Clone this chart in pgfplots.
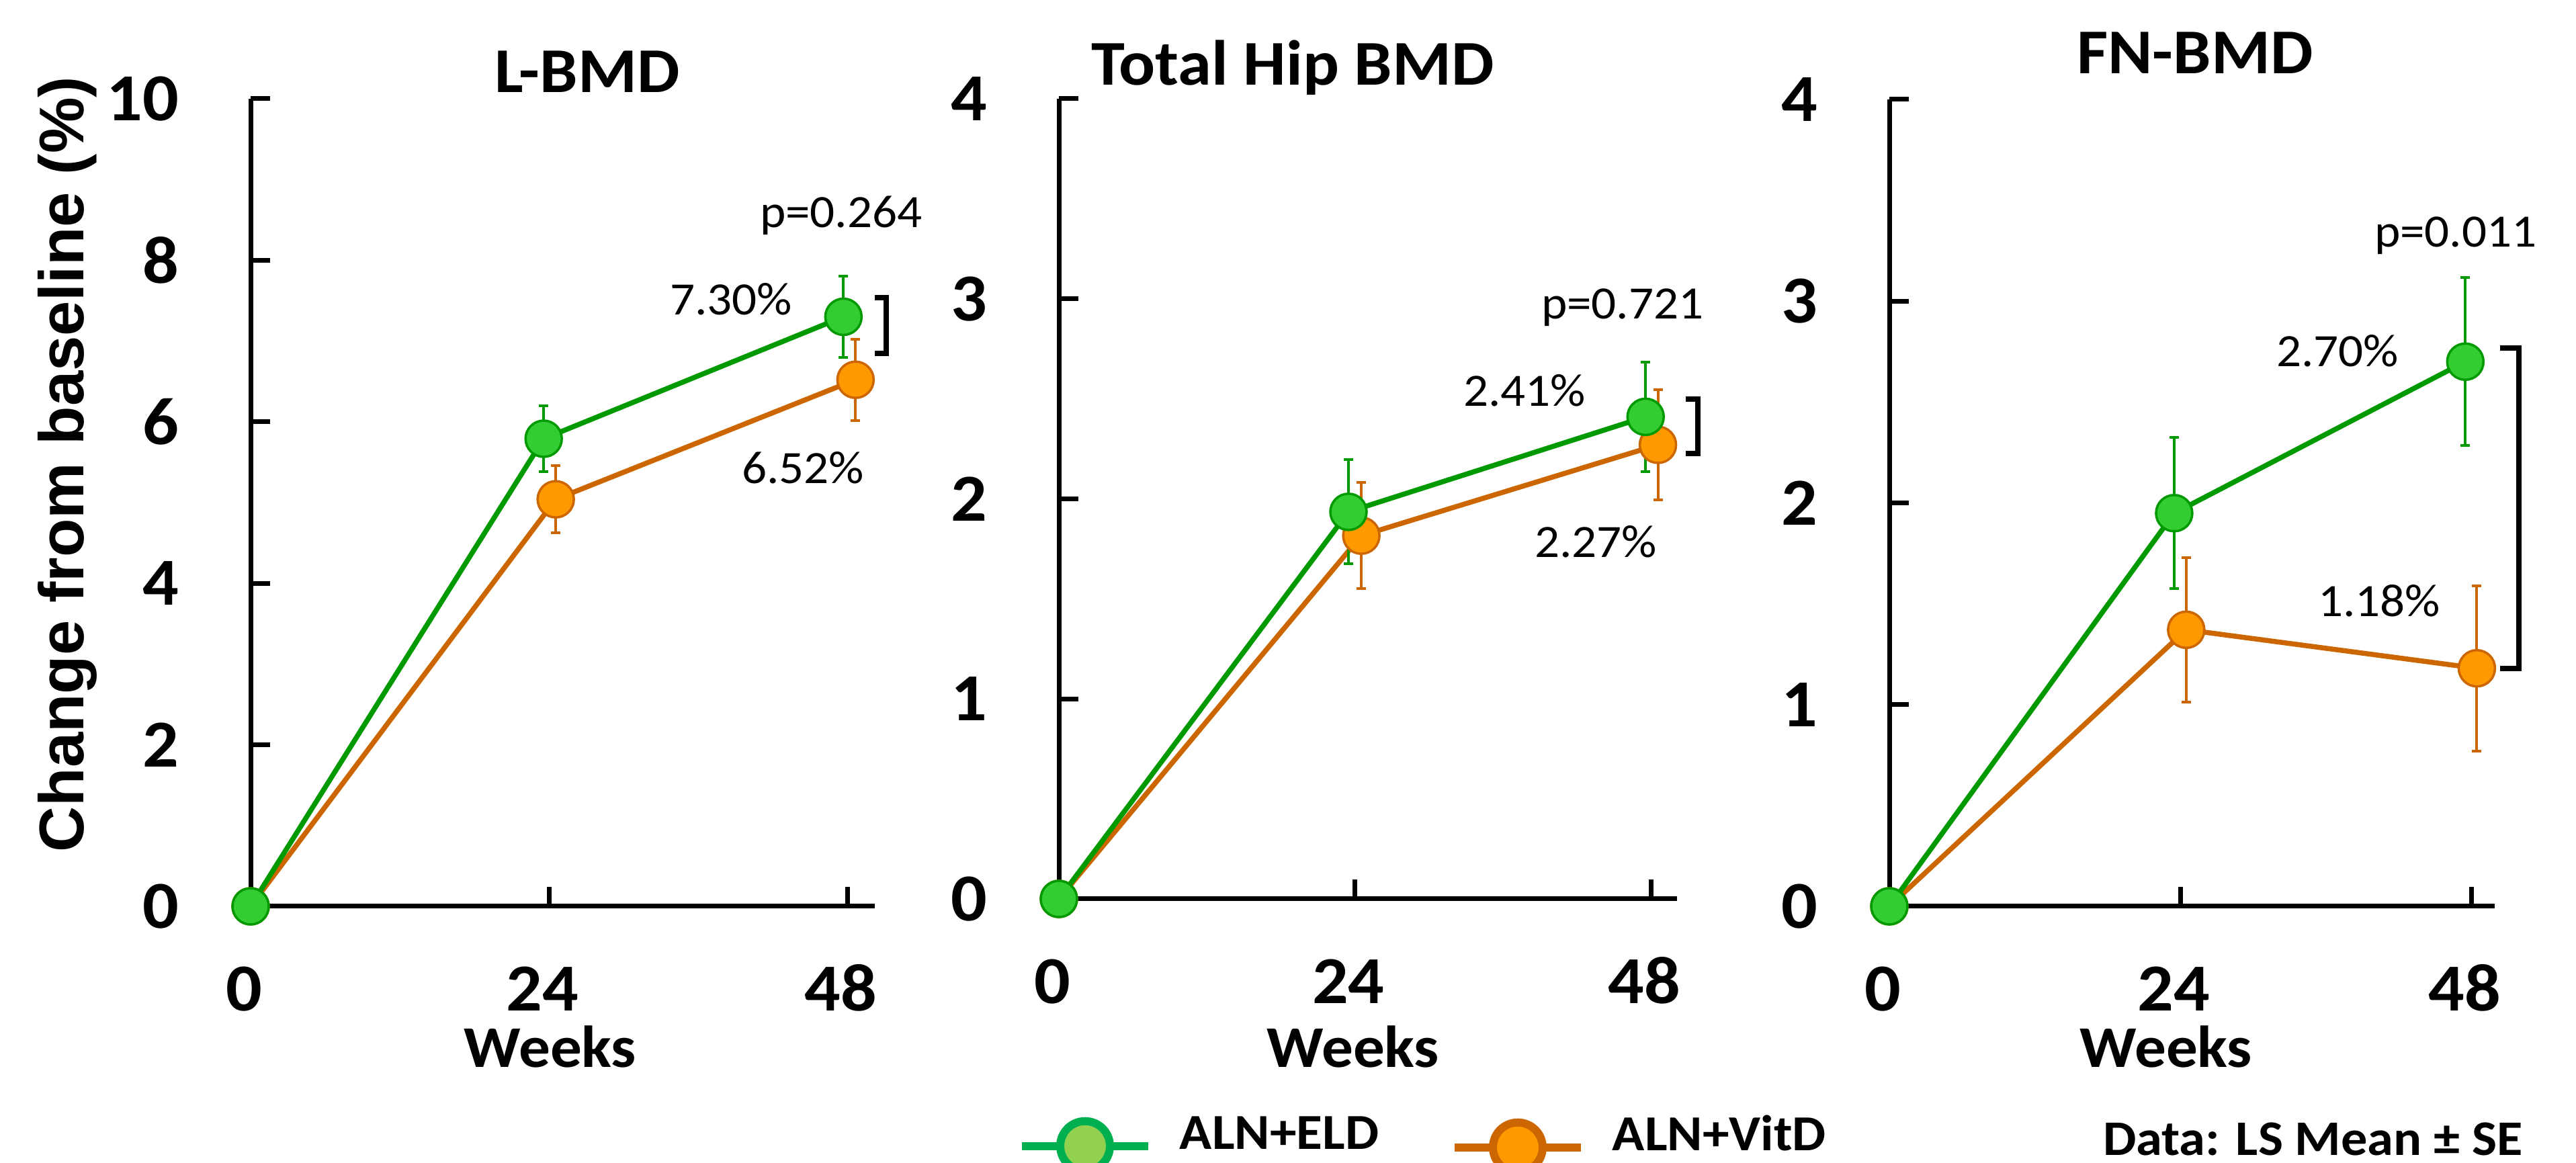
\documentclass[border=0pt]{standalone}
\usepackage{pgfplots}
\pgfplotsset{compat=1.18}
\usepackage{fontspec}
\setmainfont{Carlito}[FakeStretch=1.06]
\newfontfamily\arialfont{Liberation Sans}
\definecolor{gline}{HTML}{009900}
\definecolor{gfill}{HTML}{33CC33}
\definecolor{oline}{HTML}{CC6600}
\definecolor{ofill}{HTML}{FF9900}
\definecolor{lgline}{HTML}{00B050}
\definecolor{lgfill}{HTML}{92D050}

\pgfplotsset{
  panel/.style={
    scale only axis, anchor=south west, axis lines*=left, clip=false,
    xmin=0, ymin=0, xtick={0,24,48}, xticklabels={0,24,48},
    tick align=inside, major tick length=2.85pt,
    axis line style={line width=0.7pt, black},
    tick style={line width=0.7pt, black},
    /pgf/number format/assume math mode=true,
    ticklabel style={font=\bfseries\fontsize{10}{12}\selectfont, inner sep=0pt},
    xticklabel style={anchor=base, yshift=-15.6pt, xshift=-1pt},
    yticklabel style={anchor=east, xshift=-10.5pt},
    legend style={draw=none, fill=none, inner sep=0pt, anchor=west,
      font=\bfseries\fontsize{7.5}{9}\selectfont,
      cells={anchor=base west},
      /tikz/every odd column/.style={column sep=4.1pt},
      nodes={inner sep=0pt}},
    legend image code/.code={\draw[mark repeat=2, mark phase=2] plot coordinates {(0pt,0.5pt) (9.4pt,0.5pt) (18.8pt,0.5pt)};},
  },
  gstyle/.style={forget plot, color=gline, line width=0.75pt, mark=*, mark size=2.7pt,
    mark options={fill=gfill, draw=gline, line width=0.35pt},
    error bars/.cd, y dir=both, y explicit,
    error bar style={line width=0.4pt, gline},
    error mark options={rotate=90, line width=0.4pt, mark size=0.7pt, gline}},
  ostyle/.style={forget plot, color=oline, line width=0.75pt, mark=*, mark size=2.7pt,
    mark options={fill=ofill, draw=oline, line width=0.35pt},
    error bars/.cd, y dir=both, y explicit,
    error bar style={line width=0.4pt, oline},
    error mark options={rotate=90, line width=0.4pt, mark size=0.7pt, oline}},
}

\begin{document}
\begin{tikzpicture}
\useasboundingbox (0,0) rectangle (383.4pt,173.1pt);

% Panel 1: L-BMD
\begin{axis}[panel, at={(37.3pt,38.2pt)}, width=92.9pt, height=120.2pt,
  xmax=50.2, ymax=10, ytick={0,2,4,6,8,10}]
\addplot[ostyle] table[x index=0, y index=1, y error index=2] {
0 0 0
24.54 5.04 0.415
48.65 6.52 0.505
};
\addplot[gstyle] table[x index=0, y index=1, y error index=2] {
0 0 0
23.57 5.79 0.41
47.68 7.30 0.50
};
\end{axis}

% Panel 2: Total Hip BMD
\begin{axis}[panel, at={(157.6pt,39.3pt)}, width=92.0pt, height=119.1pt,
  xmax=50.1, ymax=4, ytick={0,1,2,3,4},
  legend style={at={(-0.0685,-0.306)}}]
\addlegendimage{lgline, line width=1.2pt, mark=*, mark size=3.7pt, mark options={fill=lgfill, draw=lgline, line width=1.2pt}}
\addlegendentry{ALN+ELD}
\addplot[ostyle] table[x index=0, y index=1, y error index=2] {
0 0 0
24.51 1.816 0.265
48.55 2.27 0.275
};
\addplot[gstyle] table[x index=0, y index=1, y error index=2] {
0 0 0
23.47 1.935 0.26
47.55 2.41 0.275
};
\end{axis}

% Panel 3: FN-BMD
\begin{axis}[panel, at={(281.2pt,38.2pt)}, width=90.1pt, height=120.1pt,
  xmax=49.9, ymax=4, ytick={0,1,2,3,4},
  legend style={at={(-0.727,-0.2943)}}]
\addlegendimage{oline, line width=1.2pt, mark=*, mark size=3.7pt, mark options={fill=ofill, draw=oline, line width=1.2pt}}
\addlegendentry{ALN+VitD}
\addplot[ostyle] table[x index=0, y index=1, y error index=2] {
0 0 0
24.47 1.371 0.357
48.43 1.18 0.41
};
\addplot[gstyle] table[x index=0, y index=1, y error index=2] {
0 0 0
23.48 1.949 0.375
47.48 2.70 0.417
};
\end{axis}

% Titles
\begin{scope}[every node/.style={inner sep=0pt, font=\bfseries\fontsize{9.5}{11}\selectfont}]
\node[anchor=base] at (87.4pt,159.3pt) {L-BMD};
\node[anchor=base] at (192.4pt,160.4pt) {Total Hip BMD};
\node[anchor=base] at (326.7pt,162.1pt) {FN-BMD};
\end{scope}
% Weeks
\begin{scope}[every node/.style={inner sep=0pt, font=\bfseries\fontsize{8.8}{10}\selectfont}]
\node[anchor=base] at (81.9pt,14.2pt) {Weeks};
\node[anchor=base] at (201.4pt,14.2pt) {Weeks};
\node[anchor=base] at (322.4pt,14.2pt) {Weeks};
\end{scope}
% Y label
\node[inner sep=0pt, rotate=90, anchor=base, font=\arialfont\bfseries\fontsize{9.4}{10}\selectfont] at (12.5pt,104.0pt) {Change from baseline (\%)};
% Annotations
\begin{scope}[every node/.style={inner sep=0pt, anchor=base west, font=\fontsize{6.9}{8}\selectfont}]
\node at (112.9pt,139.2pt) {p=0.264};
\node at (99.5pt,126.2pt) {7.30\%};
\node at (110.2pt,101.1pt) {6.52\%};
\node at (229.2pt,125.6pt) {p=0.721};
\node at (217.6pt,112.6pt) {2.41\%};
\node at (228.2pt,90.1pt) {2.27\%};
\node at (353.2pt,136.3pt) {p=0.011};
\node at (338.6pt,118.5pt) {2.70\%};
\node at (344.8pt,81.3pt) {1.18\%};
\end{scope}
% Brackets
\draw[line width=0.75pt] (130.2pt,128.8pt) -- (131.9pt,128.8pt) -- (131.9pt,120.5pt) -- (130.2pt,120.5pt);
\draw[line width=0.75pt] (250.9pt,113.7pt) -- (252.7pt,113.7pt) -- (252.7pt,105.6pt) -- (250.9pt,105.6pt);
\draw[line width=0.75pt] (372.1pt,121.3pt) -- (374.9pt,121.3pt) -- (374.9pt,73.6pt) -- (372.1pt,73.6pt);
% Data note
\node[inner sep=0pt, anchor=base west, font=\bfseries\fontsize{7.4}{9}\selectfont] at (312.8pt,1.1pt) {Data: LS Mean ± SE};
\end{tikzpicture}
\end{document}
